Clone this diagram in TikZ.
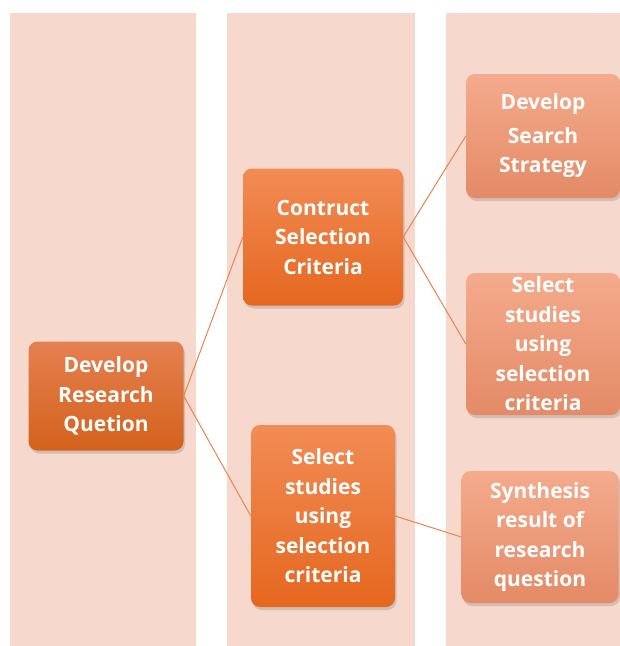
\documentclass[tikz,border=0pt]{standalone}
\usepackage{fontspec}
\setmainfont{Open Sans}
\usetikzlibrary{shadows}
\definecolor{lanebg}{HTML}{F7D8CD}
\definecolor{linkc}{HTML}{E8844F}
\begin{document}
\begin{tikzpicture}[x=1pt,y=-1pt,
  stage/.style={rounded corners=9pt, align=center, text=white, inner sep=0pt,
    font=\fontsize{21}{29.5}\selectfont\bfseries,
    drop shadow={opacity=0.3, shadow xshift=1.5pt, shadow yshift=-3pt}},
  stageA/.style={stage, top color={rgb,255:red,229;green,128;blue,80}, bottom color={rgb,255:red,212;green,98;blue,28}},
  stageB/.style={stage, top color={rgb,255:red,242;green,140;blue,85}, bottom color={rgb,255:red,229;green,103;blue,31}},
  stageC/.style={stage, top color={rgb,255:red,244;green,171;blue,140}, bottom color={rgb,255:red,228;green,138;blue,102}},
  link/.style={draw=linkc, line width=1pt}]
\useasboundingbox (0,0) rectangle (620,646);
\fill[lanebg] (10,13) rectangle (196,646); \fill[lanebg] (227,13) rectangle (415,646); \fill[lanebg] (446,13) rectangle (620,646);
\node[stageA, minimum width=155pt, minimum height=109pt] at (106,396) (quest) {Develop\\Research\\Quetion};
\node[stageB, minimum width=160pt, minimum height=137pt] at (323,237) (crit) {Contruct\\Selection\\Criteria};
\node[stageB, minimum width=144pt, minimum height=182pt] at (323,516) (selM) {Select\\studies\\using\\selection\\criteria};
\node[stageC, minimum width=154pt, minimum height=124pt] at (543,136) (search) {Develop\\[4pt]Search\\Strategy};
\node[stageC, minimum width=154pt, minimum height=142pt] at (543,344) (selR) {Select\\studies\\using\\selection\\criteria};
\node[stageC, minimum width=157pt, minimum height=132pt] at (540,537) (synth) {Synthesis\\result of\\research\\question};
\draw[link] (crit.west) -- (quest.east) -- (selM.west);
\draw[link] (search.west) -- (crit.east) -- (selR.west);
\draw[link] (selM.east) -- (synth.west);
\end{tikzpicture}
\end{document}
